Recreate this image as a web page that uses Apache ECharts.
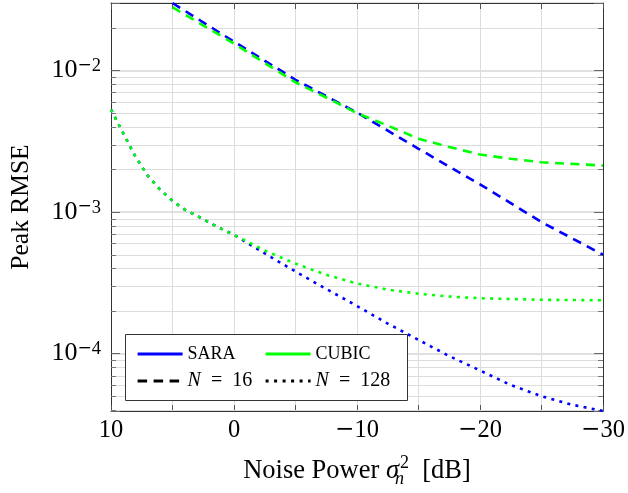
<!DOCTYPE html>
<html>
<head>
<meta charset="utf-8">
<script src="https://cdn.jsdelivr.net/npm/echarts@6/dist/echarts.min.js"></script>
<style>
  html, body { margin: 0; padding: 0; background: #fff; }
  #chart { width: 628px; height: 493px; }
</style>
</head>
<body>
<div id="chart"></div>
<script>
// Noise power grid (dB) and peak RMSE for each estimator / array size
const noiseFine = [10, 9, 8, 7, 6, 5, 4, 3, 2, 1, 0, -2.5, -5, -7.5, -10, -12.5, -15, -17.5, -20, -22.5, -25, -27.5, -30];
const sara128 = [5.3e-3, 3.6e-3, 2.45e-3, 1.8e-3, 1.44e-3, 1.2e-3, 1.04e-3, 9.4e-4, 8.4e-4, 7.6e-4, 6.9e-4, 5.1e-4, 3.8e-4, 2.86e-4, 2.17e-4, 1.63e-4, 1.25e-4, 9.6e-5, 7.6e-5, 6.0e-5, 5.0e-5, 4.35e-5, 3.93e-5];
const cubic128 = [5.3e-3, 3.6e-3, 2.45e-3, 1.8e-3, 1.44e-3, 1.2e-3, 1.04e-3, 9.4e-4, 8.4e-4, 7.6e-4, 6.9e-4, 5.35e-4, 4.32e-4, 3.6e-4, 3.13e-4, 2.83e-4, 2.65e-4, 2.53e-4, 2.46e-4, 2.43e-4, 2.4e-4, 2.39e-4, 2.38e-4];

const noiseCoarse = [5, 0, -5, -10, -15, -20, -25, -30];
const sara16 = [3.0e-2, 1.6e-2, 8.6e-3, 5.05e-3, 2.8e-3, 1.57e-3, 8.5e-4, 5.0e-4];

const noiseMid = [5, 0, -5, -7.5, -10, -12.5, -15, -17.5, -20, -22.5, -25, -27.5, -30];
const cubic16 = [2.8e-2, 1.55e-2, 8.25e-3, 6.45e-3, 5.0e-3, 4.08e-3, 3.3e-3, 2.88e-3, 2.55e-3, 2.38e-3, 2.25e-3, 2.19e-3, 2.13e-3];

const methodNames = ['SARA', 'CUBIC'];
const sizeNames = ['N = 16', 'N = 128'];
const xTicks = [10, 0, -10, -20, -30];

const X_MIN = -30, X_MAX = 10, X_STEP = 5;
const Y_MIN = 3.93e-5, Y_MAX = 3.0e-2;

const BLUE = '#0000ff', GREEN = '#00ff00';
const SERIF = 'Liberation Serif';
const DASH = [9, 6.5];
const DOT = [3, 5.3];

const pairs = (xs, ys) => xs.map((x, i) => [x, ys[i]]);

// minor log grid values k·10^e inside the y range
const minorValues = [];
for (let e = -5; e <= -2; e++) {
  for (let k = 2; k <= 9; k++) {
    const v = k * Math.pow(10, e);
    if (v > Y_MIN && v < Y_MAX) minorValues.push(v);
  }
}

function powLabel(v) {
  const e = Math.log10(v);
  const r = Math.round(e);
  if (Math.abs(e - r) > 1e-6) return '';
  return '{b|10}' + (r < 0 ? '{sm|\u2212}' : '') + '{s|' + Math.abs(r) + '}';
}
function xLabel(v) {
  if (xTicks.indexOf(v) < 0) return '';
  return v < 0 ? '{m|\u2212}{b|' + Math.abs(v) + '}' : '{b|' + v + '}';
}

const chart = echarts.init(document.getElementById('chart'), null, { renderer: 'canvas' });

const lineSeries = (name, data, color, dash) => ({
  name, type: 'line', data, symbol: 'none', smooth: false, z: 3,
  lineStyle: { color, width: 2.6, type: dash, cap: 'butt' },
  itemStyle: { color }
});
const legendSeries = (name, color, dash) => ({
  name, type: 'line', data: [], symbol: 'none',
  lineStyle: { color, width: 3.2, type: dash, cap: 'butt' },
  itemStyle: { color }
});

const legendText = {
  fontFamily: SERIF, fontSize: 18, color: '#000',
  rich: {
    i: { fontFamily: SERIF, fontStyle: 'italic', fontSize: 20, color: '#000' },
    n: { fontFamily: SERIF, fontSize: 20, color: '#000' }
  }
};
const legendFormatter = name => name.indexOf('N') === 0
  ? '{i|N}{n|\u2002=\u2002' + name.split('= ')[1] + '}'
  : name;

const legendBase = {
  orient: 'vertical', top: 345, padding: 0,
  itemWidth: 45, itemHeight: 12, itemGap: 8, selectedMode: false, z: 20,
  itemStyle: { opacity: 0, color: 'transparent', borderWidth: 0 },
  lineStyle: { width: 3.2 },
  textStyle: legendText, formatter: legendFormatter
};

const frameLine = { show: true, onZero: false, lineStyle: { color: '#333', width: 1 } };

const option = {
  animation: false,
  backgroundColor: '#fff',
  grid: { left: 109, right: 25, top: 3, bottom: 81, show: false },
  xAxis: [{
    type: 'value', inverse: true, min: X_MIN, max: X_MAX, interval: X_STEP,
    name: '{t|Noise Power }{g|\u03c3}{sb|n}{sp|2}{t|  [dB]}',
    nameLocation: 'middle', nameGap: 43,
    nameTextStyle: {
      rich: {
        t: { fontFamily: SERIF, fontSize: 26.5, lineHeight: 34, color: '#000' },
        g: { fontFamily: SERIF, fontStyle: 'italic', fontSize: 26.5, lineHeight: 34, color: '#000' },
        sb: { fontFamily: SERIF, fontStyle: 'italic', fontSize: 18, lineHeight: 17, verticalAlign: 'bottom', width: 1, color: '#000' },
        sp: { fontFamily: SERIF, fontSize: 18, lineHeight: 17, verticalAlign: 'top', color: '#000' }
      }
    },
    axisLine: frameLine,
    axisTick: { show: true, inside: true, length: 6, lineStyle: { color: '#555' } },
    axisLabel: {
      formatter: xLabel, margin: 7, color: '#000',
      rich: {
        b: { fontFamily: SERIF, fontSize: 24.5, color: '#000' },
        m: { fontFamily: 'DejaVu Serif', fontSize: 23, color: '#000' }
      }
    },
    splitLine: { show: true, lineStyle: { color: '#dcdcdc', width: 1 } }
  }, {
    type: 'value', position: 'top', inverse: true, min: X_MIN, max: X_MAX, interval: X_STEP,
    axisLine: frameLine,
    axisTick: { show: true, inside: true, length: 6, lineStyle: { color: '#555' } },
    axisLabel: { show: false },
    splitLine: { show: false }
  }],
  yAxis: [{
    type: 'log', logBase: 10, min: Y_MIN, max: Y_MAX, position: 'left',
    name: 'Peak RMSE', nameLocation: 'middle', nameGap: 77,
    nameTextStyle: { fontFamily: SERIF, fontSize: 25.5, color: '#000' },
    axisLine: frameLine,
    axisTick: { show: true, inside: true, length: 9, lineStyle: { color: '#666' } },
    axisLabel: {
      formatter: powLabel, margin: 10, color: '#000',
      rich: {
        b: { fontFamily: SERIF, fontSize: 26, lineHeight: 27, color: '#000' },
        sm: { fontFamily: 'DejaVu Serif', fontSize: 17, lineHeight: 17, verticalAlign: 'top', color: '#000' },
        s: { fontFamily: SERIF, fontSize: 18.5, lineHeight: 17, verticalAlign: 'top', color: '#000' }
      }
    },
    splitLine: { show: true, lineStyle: { color: '#d6d6d6', width: 1.5 } }
  }, {
    type: 'log', logBase: 10, min: Y_MIN, max: Y_MAX, position: 'right',
    axisLine: frameLine,
    axisTick: { show: true, inside: true, length: 9, lineStyle: { color: '#666' } },
    axisLabel: { show: false },
    splitLine: { show: false }
  }],
  legend: [
    Object.assign({ data: [methodNames[0], sizeNames[0]], left: 136 }, legendBase),
    Object.assign({ data: [methodNames[1], sizeNames[1]], left: 264 }, legendBase)
  ],
  graphic: [{
    type: 'rect', z: 15,
    shape: { x: 125.5, y: 334.5, width: 282, height: 66 },
    style: { fill: '#fff', stroke: '#333', lineWidth: 1 }
  }],
  series: [
    {
      type: 'custom', name: 'minor grid', z: 1, silent: true,
      data: minorValues.map(v => [X_MIN, v]),
      renderItem(params, api) {
        const cs = params.coordSys;
        const y = Math.round(api.coord([api.value(0), api.value(1)])[1]) + 0.5;
        const l = cs.x, r = cs.x + cs.width;
        return {
          type: 'group', children: [
            { type: 'line', shape: { x1: l, y1: y, x2: r, y2: y }, style: { stroke: '#dddddd', lineWidth: 1 } },
            { type: 'line', shape: { x1: l, y1: y, x2: l + 5, y2: y }, style: { stroke: '#777', lineWidth: 1 } },
            { type: 'line', shape: { x1: r - 5, y1: y, x2: r, y2: y }, style: { stroke: '#777', lineWidth: 1 } }
          ]
        };
      }
    },
    lineSeries('SARA, N = 16', pairs(noiseCoarse, sara16), BLUE, DASH),
    lineSeries('CUBIC, N = 16', pairs(noiseMid, cubic16), GREEN, DASH),
    lineSeries('SARA, N = 128', pairs(noiseFine, sara128), BLUE, DOT),
    lineSeries('CUBIC, N = 128', pairs(noiseFine, cubic128), GREEN, DOT),
    legendSeries(methodNames[0], BLUE, 'solid'),
    legendSeries(methodNames[1], GREEN, 'solid'),
    legendSeries(sizeNames[0], '#000', [9.5, 6.5]),
    legendSeries(sizeNames[1], '#000', [3, 5.5])
  ]
};

chart.setOption(option);
</script>
</body>
</html>
